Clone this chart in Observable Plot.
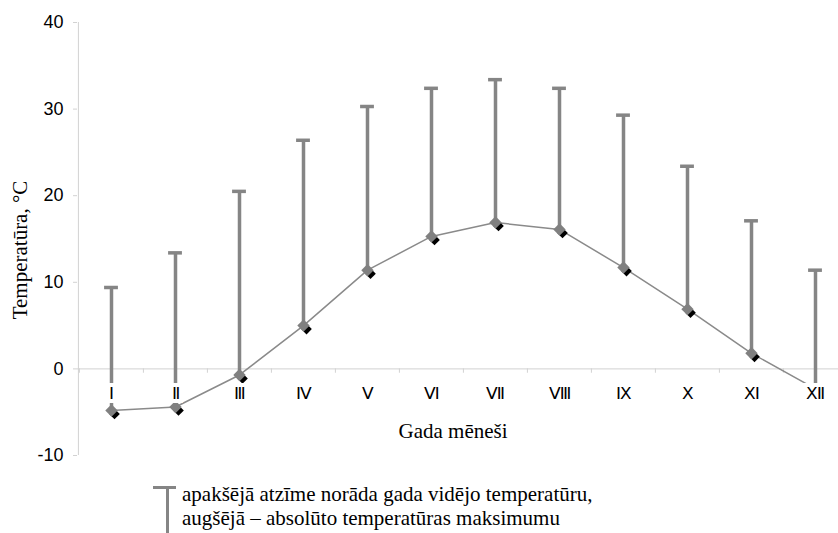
<!DOCTYPE html>
<html>
<head>
<meta charset="utf-8">
<script src="https://cdn.jsdelivr.net/npm/d3@7"></script>
<script src="https://cdn.jsdelivr.net/npm/@observablehq/plot@0.6"></script>
<style>
  body { margin: 0; background: #fff; }
  #chart { position: relative; width: 838px; height: 533px; overflow: hidden; }
  #chart svg { display: block; }
  .legend { position: absolute; left: 0; top: 0; width: 838px; height: 533px; pointer-events: none; }
  .legend .bar { position: absolute; background: #858585; }
  .legend .txt { position: absolute; left: 182px; top: 482px; font-family: "Liberation Serif", "Times New Roman", serif; font-size: 21px; line-height: 24px; color: #000; white-space: nowrap; }
</style>
</head>
<body>
<div id="chart"></div>
<script>
// Months of the year (Roman numerals)
const months = ["Ⅰ", "Ⅱ", "Ⅲ", "Ⅳ", "Ⅴ", "Ⅵ", "Ⅶ", "Ⅷ", "Ⅸ", "Ⅹ", "Ⅺ", "Ⅻ"];
// Mean monthly temperature, °C
const meanTemp = [-4.8, -4.4, -0.7, 5.0, 11.4, 15.3, 16.9, 16.1, 11.7, 6.9, 1.8, -2.3];
// Absolute maximum temperature, °C
const maxTemp = [9.4, 13.4, 20.5, 26.4, 30.3, 32.4, 33.4, 32.4, 29.3, 23.4, 17.1, 11.4];
// Y axis ticks
const yTicks = [-10, 0, 10, 20, 30, 40];

const data = months.map((m, i) => ({month: m, mean: meanTemp[i], max: maxTemp[i]}));

const W = 838, H = 470;
const xRange = [78, 848];
const band = (xRange[1] - xRange[0]) / months.length;
const axisGray = "#d2d2d2";
const barGray = "#858585";
const sans = "'Liberation Sans', Arial, sans-serif";
const serif = "'Liberation Serif', 'Times New Roman', serif";

const chart = Plot.plot({
  width: W,
  height: H,
  marginLeft: 77,
  marginRight: 0,
  marginTop: 22,
  marginBottom: 15,
  x: {type: "band", domain: months, range: xRange, padding: 0, axis: null},
  y: {domain: [-10, 40], range: [455, 22], axis: null},
  marks: [
    // zero line acting as category axis
    Plot.ruleY([0], {stroke: axisGray, strokeWidth: 1}),
    // category boundary ticks below the zero line
    Plot.ruleX(months, {x: d => d, y1: () => 0, y2: () => -0.5, dx: -band / 2, stroke: axisGray}),
    // value axis line
    Plot.ruleX([months[0]], {x: d => d, y1: () => -10, y2: () => 40, dx: -band / 2 - 1, stroke: axisGray}),
    Plot.axisY({
      ticks: yTicks,
      tickSize: 4,
      tickPadding: 10,
      tickFormat: d => String(d).replace("\u2212", "-"),
      stroke: axisGray,
      fill: "#000",
      fontSize: 18,
      fontFamily: sans,
      label: null
    }),
    // range from mean to absolute maximum
    Plot.ruleX(data, {x: "month", y1: "mean", y2: "max", stroke: barGray, strokeWidth: 3.5}),
    Plot.tickY(data, {x: "month", y: "max", stroke: barGray, strokeWidth: 3.5, insetLeft: band / 2 - 7, insetRight: band / 2 - 7}),
    // mean temperature curve
    Plot.line(data, {x: "month", y: "mean", stroke: "#8a8a8a", strokeWidth: 1.5}),
    Plot.dot(data, {x: "month", y: "mean", symbol: "diamond2", r: 4.8, fill: "#000", dx: 3, dy: 3.5}),
    Plot.dot(data, {x: "month", y: "mean", symbol: "diamond2", r: 5.6, fill: "#808080"}),
    // month labels on white boxes
    Plot.text(months, {
      x: d => d, y: () => 0, dy: 25, text: d => d,
      fontSize: 17, fontFamily: sans, fill: "#000",
      stroke: "#fff", strokeWidth: 8, strokeLinejoin: "miter"
    }),
    // axis titles
    Plot.text(["Temperatūra, °C"], {
      frameAnchor: "left", textAnchor: "middle", text: d => d, rotate: -90, dx: -57, dy: 11,
      fontSize: 21, fontFamily: serif, fill: "#000"
    }),
    Plot.text(["Gada mēneši"], {
      frameAnchor: "bottom", textAnchor: "middle", text: d => d, dx: -5, dy: -18,
      fontSize: 21, fontFamily: serif, fill: "#000"
    })
  ]
});

const root = document.getElementById("chart");
root.appendChild(chart);

// legend below the chart
const legend = document.createElement("div");
legend.className = "legend";
legend.innerHTML =
  '<div class="bar" style="left:153px;top:486px;width:23px;height:3px"></div>' +
  '<div class="bar" style="left:166px;top:486px;width:3px;height:47px"></div>' +
  '<div class="txt">apakšējā atzīme norāda gada vidējo temperatūru,<br>augšējā – absolūto temperatūras maksimumu</div>';
root.appendChild(legend);
</script>
</body>
</html>
